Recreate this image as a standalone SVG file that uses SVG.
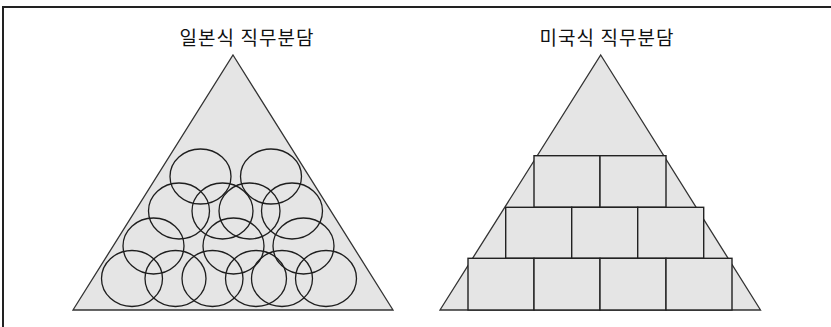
<svg xmlns="http://www.w3.org/2000/svg" width="831" height="327" viewBox="0 0 831 327">
<style>
.tri{fill:#e5e5e5;stroke:#333;stroke-width:1.3;stroke-linejoin:miter}
.c{fill:none;stroke:#1e1e1e;stroke-width:1.3}
.b{fill:#e5e5e5;stroke:#222;stroke-width:1.4}
.t{font-family:"Noto Sans CJK KR","Noto Sans",sans-serif;font-size:19px;fill:#111}
.frame{fill:none;stroke:#222;stroke-width:2}
</style>
<rect width="831" height="327" fill="#fff"/>
<g id="frame"><path class="frame" d="M3,327 V7 H831"/></g>
<g id="japanese">
<text class="t" x="179.5" y="45" textLength="134" lengthAdjust="spacing">일본식 직무분담</text>
<polygon class="tri" points="233,55 393,310 73,310"/>
<g id="japanese-circles">
<ellipse class="c" cx="200.5" cy="176.5" rx="30.5" ry="27.5"/>
<ellipse class="c" cx="271" cy="176.5" rx="30.5" ry="27.5"/>
<ellipse class="c" cx="179" cy="211" rx="30.5" ry="28"/>
<ellipse class="c" cx="222.5" cy="211" rx="30.5" ry="28"/>
<ellipse class="c" cx="249.5" cy="211" rx="30.5" ry="28"/>
<ellipse class="c" cx="292" cy="211" rx="30.5" ry="28"/>
<ellipse class="c" cx="153.5" cy="246" rx="30.5" ry="28"/>
<ellipse class="c" cx="233.5" cy="246" rx="30.5" ry="28"/>
<ellipse class="c" cx="303.5" cy="246" rx="30.5" ry="28"/>
<ellipse class="c" cx="132" cy="278.5" rx="30.5" ry="28"/>
<ellipse class="c" cx="175.5" cy="278.5" rx="30.5" ry="28"/>
<ellipse class="c" cx="212.5" cy="278.5" rx="30.5" ry="28"/>
<ellipse class="c" cx="256" cy="278.5" rx="30.5" ry="28"/>
<ellipse class="c" cx="282" cy="278.5" rx="30.5" ry="28"/>
<ellipse class="c" cx="326" cy="278.5" rx="30.5" ry="28"/>
</g>
</g>
<g id="american">
<text class="t" x="539.5" y="45" textLength="134" lengthAdjust="spacing">미국식 직무분담</text>
<polygon class="tri" points="600.7,55 760.5,310 440,310"/>
<g id="american-blocks">
<rect class="b" x="534" y="155.7" width="66" height="51.6"/>
<rect class="b" x="600" y="155.7" width="66" height="51.6"/>
<rect class="b" x="505.7" y="207.3" width="66" height="51"/>
<rect class="b" x="571.7" y="207.3" width="66" height="51"/>
<rect class="b" x="637.7" y="207.3" width="66" height="51"/>
<rect class="b" x="468" y="258.3" width="66" height="51.7"/>
<rect class="b" x="534" y="258.3" width="66" height="51.7"/>
<rect class="b" x="600" y="258.3" width="66" height="51.7"/>
<rect class="b" x="666" y="258.3" width="66" height="51.7"/>
</g>
</g>
</svg>
